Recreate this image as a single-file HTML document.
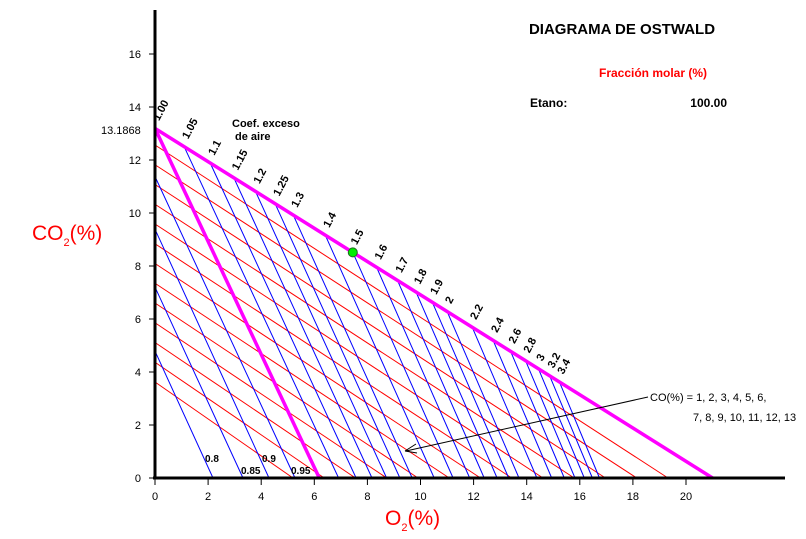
<!DOCTYPE html>
<html><head><meta charset="utf-8"><style>
body{margin:0;background:#fff}
svg{display:block;font-family:"Liberation Sans",Verdana,sans-serif}
</style></head><body>
<svg width="806" height="539" viewBox="0 0 806 539" xmlns="http://www.w3.org/2000/svg">
<g stroke="#ff0000" stroke-width="1">
<line x1="155" y1="145" x2="668" y2="478"/>
<line x1="155" y1="164.75" x2="636.75" y2="478"/>
<line x1="155" y1="184.5" x2="605.5" y2="478"/>
<line x1="155" y1="204.25" x2="574.25" y2="478"/>
<line x1="155" y1="224" x2="543" y2="478"/>
<line x1="155" y1="243.75" x2="511.75" y2="478"/>
<line x1="155" y1="263.5" x2="480.5" y2="478"/>
<line x1="155" y1="283.25" x2="449.25" y2="478"/>
<line x1="155" y1="303" x2="418" y2="478"/>
<line x1="155" y1="322.75" x2="386.75" y2="478"/>
<line x1="155" y1="342.5" x2="355.5" y2="478"/>
<line x1="155" y1="362.25" x2="324.25" y2="478"/>
<line x1="155" y1="382" x2="293" y2="478"/>
</g>
<g stroke="#0000ff" stroke-width="1">
<line x1="184.1" y1="146.6" x2="338.6" y2="478"/>
<line x1="210.2" y1="163.0" x2="356.1" y2="478"/>
<line x1="233.9" y1="177.9" x2="372.0" y2="478"/>
<line x1="255.5" y1="191.4" x2="386.6" y2="478"/>
<line x1="275.2" y1="203.8" x2="399.9" y2="478"/>
<line x1="293.3" y1="215.1" x2="412.2" y2="478"/>
<line x1="325.3" y1="235.2" x2="434.2" y2="478"/>
<line x1="352.8" y1="252.4" x2="453.1" y2="478"/>
<line x1="376.6" y1="267.3" x2="469.7" y2="478"/>
<line x1="397.5" y1="280.4" x2="484.2" y2="478"/>
<line x1="416.0" y1="291.9" x2="497.1" y2="478"/>
<line x1="432.3" y1="302.2" x2="508.7" y2="478"/>
<line x1="447.1" y1="311.4" x2="519.0" y2="478"/>
<line x1="472.2" y1="327.2" x2="536.9" y2="478"/>
<line x1="493.1" y1="340.3" x2="551.7" y2="478"/>
<line x1="510.6" y1="351.3" x2="564.3" y2="478"/>
<line x1="525.5" y1="360.6" x2="575.0" y2="478"/>
<line x1="538.4" y1="368.7" x2="584.3" y2="478"/>
<line x1="549.6" y1="375.7" x2="592.4" y2="478"/>
<line x1="559.4" y1="381.9" x2="599.5" y2="478"/>
<line x1="155" y1="351.1" x2="213" y2="478"/>
<line x1="155" y1="287.1" x2="243" y2="478"/>
<line x1="155" y1="229.2" x2="269" y2="478"/>
<line x1="155" y1="176.5" x2="295" y2="478"/>
</g>
<g stroke="#ff00ff" stroke-width="3.5">
<line x1="155" y1="128.4" x2="319.3" y2="478"/>
<line x1="155" y1="128.4" x2="712.6" y2="478"/>
</g>
<g font-size="11" font-weight="bold">
<text x="159" y="121.4" transform="rotate(-62 159 121.4)">1.00</text>
<text x="188.1" y="139.6" transform="rotate(-62 188.1 139.6)">1.05</text>
<text x="214.2" y="156" transform="rotate(-62 214.2 156)">1.1</text>
<text x="237.9" y="170.9" transform="rotate(-62 237.9 170.9)">1.15</text>
<text x="259.5" y="184.4" transform="rotate(-62 259.5 184.4)">1.2</text>
<text x="279.2" y="196.8" transform="rotate(-62 279.2 196.8)">1.25</text>
<text x="297.3" y="208.1" transform="rotate(-62 297.3 208.1)">1.3</text>
<text x="329.3" y="228.2" transform="rotate(-62 329.3 228.2)">1.4</text>
<text x="356.8" y="245.4" transform="rotate(-62 356.8 245.4)">1.5</text>
<text x="380.6" y="260.3" transform="rotate(-62 380.6 260.3)">1.6</text>
<text x="401.5" y="273.4" transform="rotate(-62 401.5 273.4)">1.7</text>
<text x="420" y="284.9" transform="rotate(-62 420 284.9)">1.8</text>
<text x="436.3" y="295.2" transform="rotate(-62 436.3 295.2)">1.9</text>
<text x="451.1" y="304.4" transform="rotate(-62 451.1 304.4)">2</text>
<text x="476.2" y="320.2" transform="rotate(-62 476.2 320.2)">2.2</text>
<text x="497.1" y="333.3" transform="rotate(-62 497.1 333.3)">2.4</text>
<text x="514.6" y="344.3" transform="rotate(-62 514.6 344.3)">2.6</text>
<text x="529.5" y="353.6" transform="rotate(-62 529.5 353.6)">2.8</text>
<text x="542.4" y="361.7" transform="rotate(-62 542.4 361.7)">3</text>
<text x="553.6" y="368.7" transform="rotate(-62 553.6 368.7)">3.2</text>
<text x="563.4" y="374.9" transform="rotate(-62 563.4 374.9)">3.4</text>
</g>
<g stroke="#000">
<line x1="155" y1="10" x2="155" y2="479" stroke-width="3"/>
<line x1="153" y1="478" x2="785" y2="478" stroke-width="3"/>
<g stroke-width="1">
<line x1="149" y1="478" x2="155" y2="478"/><line x1="149" y1="425" x2="155" y2="425"/>
<line x1="149" y1="372" x2="155" y2="372"/><line x1="149" y1="319" x2="155" y2="319"/>
<line x1="149" y1="266" x2="155" y2="266"/><line x1="149" y1="213" x2="155" y2="213"/>
<line x1="149" y1="160" x2="155" y2="160"/><line x1="149" y1="107" x2="155" y2="107"/>
<line x1="149" y1="54" x2="155" y2="54"/>
<line x1="155" y1="478" x2="155" y2="485"/><line x1="208.1" y1="478" x2="208.1" y2="485"/>
<line x1="261.2" y1="478" x2="261.2" y2="485"/><line x1="314.3" y1="478" x2="314.3" y2="485"/>
<line x1="367.4" y1="478" x2="367.4" y2="485"/><line x1="420.5" y1="478" x2="420.5" y2="485"/>
<line x1="473.6" y1="478" x2="473.6" y2="485"/><line x1="526.7" y1="478" x2="526.7" y2="485"/>
<line x1="579.8" y1="478" x2="579.8" y2="485"/><line x1="632.9" y1="478" x2="632.9" y2="485"/>
<line x1="686" y1="478" x2="686" y2="485"/>
<line x1="648" y1="397" x2="406" y2="451"/>
<path d="M405,451 L416,444 M405,451 L417,453" fill="none"/>
</g>
</g>
<g font-size="11" text-anchor="end">
<text x="141" y="482">0</text><text x="141" y="429">2</text><text x="141" y="376">4</text>
<text x="141" y="323">6</text><text x="141" y="270">8</text><text x="141" y="217">10</text>
<text x="141" y="164">12</text><text x="141" y="111">14</text><text x="141" y="58">16</text>
</g>
<g font-size="11" text-anchor="middle">
<text x="155" y="500">0</text><text x="208.1" y="500">2</text><text x="261.2" y="500">4</text>
<text x="314.3" y="500">6</text><text x="367.4" y="500">8</text><text x="420.5" y="500">10</text>
<text x="473.6" y="500">12</text><text x="526.7" y="500">14</text><text x="579.8" y="500">16</text>
<text x="632.9" y="500">18</text><text x="686" y="500">20</text>
</g>
<circle cx="352.8" cy="252.4" r="4.5" fill="#00ee00" stroke="#226622" stroke-width="1"/>
<text x="622" y="34" font-size="15" font-weight="bold" text-anchor="middle">DIAGRAMA DE OSTWALD</text>
<text x="653" y="77" font-size="12" font-weight="bold" fill="#ff0000" text-anchor="middle">Fracción molar (%)</text>
<text x="530" y="107" font-size="12" font-weight="bold">Etano:</text>
<text x="727" y="107" font-size="12" font-weight="bold" text-anchor="end">100.00</text>
<text x="232" y="127" font-size="11" font-weight="bold">Coef. exceso</text>
<text x="235" y="140" font-size="11" font-weight="bold">de aire</text>
<text x="101" y="134" font-size="11">13.1868</text>
<text x="32" y="240" font-size="21" fill="#ff0000">CO<tspan font-size="11" dy="6">2</tspan><tspan dy="-6">(%)</tspan></text>
<text x="385" y="525" font-size="21" fill="#ff0000">O<tspan font-size="11" dy="6">2</tspan><tspan dy="-6">(%)</tspan></text>
<text x="650" y="401" font-size="11">CO(%) = 1, 2, 3, 4, 5, 6,</text>
<text x="693" y="421" font-size="11">7, 8, 9, 10, 11, 12, 13</text>
<text x="205" y="462" font-size="10" font-weight="bold">0.8</text>
<text x="241" y="474" font-size="10" font-weight="bold">0.85</text>
<text x="262" y="462" font-size="10" font-weight="bold">0.9</text>
<text x="291" y="474" font-size="10" font-weight="bold">0.95</text>
</svg>
</body></html>
